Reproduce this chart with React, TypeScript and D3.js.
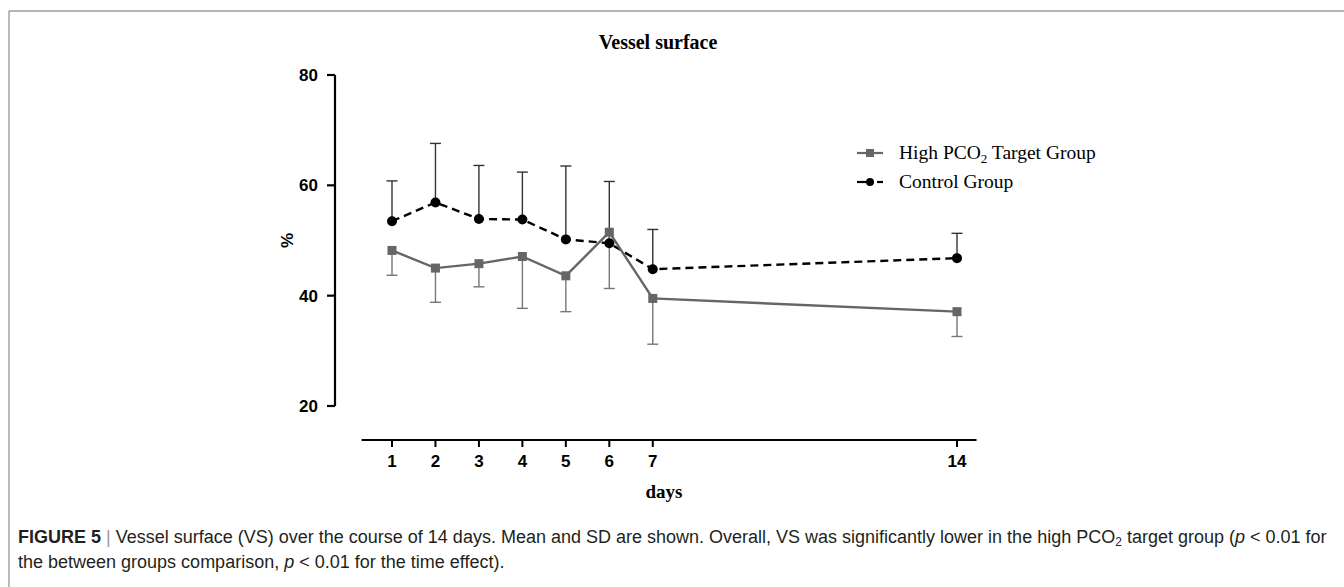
import React from 'react';
import * as d3 from 'd3';

// data
const days = [1, 2, 3, 4, 5, 6, 7, 14];
const highMean = [48.2, 45.0, 45.8, 47.1, 43.6, 51.5, 39.5, 37.1];
const highLow = [43.7, 38.8, 41.6, 37.7, 37.1, 41.3, 31.2, 32.6];
const ctrlMean = [53.5, 56.9, 53.9, 53.8, 50.2, 49.5, 44.8, 46.8];
const ctrlHigh = [60.8, 67.6, 63.6, 62.4, 63.5, 60.7, 52.0, 51.3];
const yTicks = [20, 40, 60, 80];

const W = 1344;
const H = 587;
const sans = '"Liberation Sans", Arial, sans-serif';
const serif = '"Liberation Serif", "Times New Roman", serif';

export default function App() {
  // scales
  const x = d3.scaleLinear().domain([1, 14]).range([392, 957]);
  const y = d3.scaleLinear().domain([20, 80]).range([406, 75]);
  const axisX = 335;
  const axisY = 440;

  const highPts = days.map((d, i) => [x(d), y(highMean[i])] as [number, number]);
  const ctrlPts = days.map((d, i) => [x(d), y(ctrlMean[i])] as [number, number]);
  const line = d3.line();

  const highColor = '#666666';
  const capW = 5.5;

  return (
    <svg width={W} height={H} style={{ position: 'absolute', left: 0, top: 0, background: '#fff' }}>
      {/* frame */}
      <line x1={9} x2={W} y1={11} y2={11} stroke="#b4b4b4" strokeWidth={2} />
      <line x1={9} x2={9} y1={11} y2={H} stroke="#8c8c8c" strokeWidth={1.2} />

      {/* title */}
      <text x={658} y={49} textAnchor="middle" fontFamily={serif} fontWeight="bold" fontSize={20}>
        Vessel surface
      </text>

      {/* y axis */}
      <line x1={axisX} x2={axisX} y1={y(80)} y2={y(20)} stroke="#000" strokeWidth={2.2} />
      {yTicks.map(t => (
        <g key={t}>
          <line x1={axisX - 8} x2={axisX} y1={y(t)} y2={y(t)} stroke="#000" strokeWidth={2.2} />
          <text x={axisX - 17} y={y(t) + 6} textAnchor="end" fontFamily={sans} fontWeight="bold" fontSize={17}>
            {t}
          </text>
        </g>
      ))}
      <text
        transform={`translate(${293}, ${(y(80) + y(20)) / 2}) rotate(-90)`}
        textAnchor="middle"
        fontFamily={sans}
        fontWeight="bold"
        fontSize={17}
      >
        %
      </text>

      {/* x axis */}
      <line x1={x(0.3)} x2={x(14.45)} y1={axisY} y2={axisY} stroke="#000" strokeWidth={2.2} />
      {days.map(d => (
        <g key={d}>
          <line x1={x(d)} x2={x(d)} y1={axisY} y2={axisY + 7} stroke="#000" strokeWidth={2} />
          <text x={x(d)} y={axisY + 27} textAnchor="middle" fontFamily={sans} fontWeight="bold" fontSize={17}>
            {d}
          </text>
        </g>
      ))}
      <text x={664} y={498} textAnchor="middle" fontFamily={serif} fontWeight="bold" fontSize={19}>
        days
      </text>

      {/* error bars: control up, high PCO2 down */}
      {days.map((d, i) => (
        <g key={'eb' + d}>
          <line x1={x(d)} x2={x(d)} y1={y(ctrlMean[i])} y2={y(ctrlHigh[i])} stroke="#333" strokeWidth={1.4} />
          <line x1={x(d) - capW} x2={x(d) + capW} y1={y(ctrlHigh[i])} y2={y(ctrlHigh[i])} stroke="#333" strokeWidth={1.4} />
          <line x1={x(d)} x2={x(d)} y1={y(highMean[i])} y2={y(highLow[i])} stroke="#777" strokeWidth={1.4} />
          <line x1={x(d) - capW} x2={x(d) + capW} y1={y(highLow[i])} y2={y(highLow[i])} stroke="#777" strokeWidth={1.4} />
        </g>
      ))}

      {/* control line */}
      <path d={line(ctrlPts) || ''} fill="none" stroke="#000" strokeWidth={2.4} strokeDasharray="8,5" />
      {/* high PCO2 line */}
      <path d={line(highPts) || ''} fill="none" stroke={highColor} strokeWidth={2.4} />

      {ctrlPts.map((p, i) => (
        <circle key={'c' + i} cx={p[0]} cy={p[1]} r={5} fill="#000" />
      ))}
      {highPts.map((p, i) => (
        <rect key={'s' + i} x={p[0] - 4.5} y={p[1] - 4.5} width={9} height={9} fill={highColor} />
      ))}

      {/* legend */}
      <g>
        <line x1={857} x2={883} y1={153} y2={153} stroke={highColor} strokeWidth={2.2} />
        <rect x={866} y={149} width={8} height={8} fill={highColor} />
        <text x={899} y={159} fontFamily={serif} fontSize={19.5}>
          High PCO<tspan fontSize={13} dy={4}>2</tspan>
          <tspan dy={-4}> Target Group</tspan>
        </text>
        <line x1={857} x2={866} y1={182} y2={182} stroke="#000" strokeWidth={2.2} />
        <circle cx={870} cy={182} r={4} fill="#000" />
        <line x1={877} x2={883} y1={182} y2={182} stroke="#000" strokeWidth={2.2} />
        <text x={899} y={188} fontFamily={serif} fontSize={19.5}>
          Control Group
        </text>
      </g>

      {/* caption */}
      <text x={18} y={543} fontFamily={sans} fontSize={18} fill="#231f20">
        <tspan fontWeight="bold">FIGURE 5</tspan>
        <tspan fill="#999"> | </tspan>
        <tspan>Vessel surface (VS) over the course of 14 days. Mean and SD are shown. Overall, VS was significantly lower in the high PCO</tspan>
        <tspan fontSize={12} dy={3}>2</tspan>
        <tspan dy={-3}> target group (</tspan>
        <tspan fontStyle="italic">p</tspan>
        <tspan> &lt; 0.01 for</tspan>
      </text>
      <text x={18} y={568} fontFamily={sans} fontSize={18} fill="#231f20">
        <tspan>the between groups comparison, </tspan>
        <tspan fontStyle="italic">p</tspan>
        <tspan> &lt; 0.01 for the time effect).</tspan>
      </text>
    </svg>
  );
}
